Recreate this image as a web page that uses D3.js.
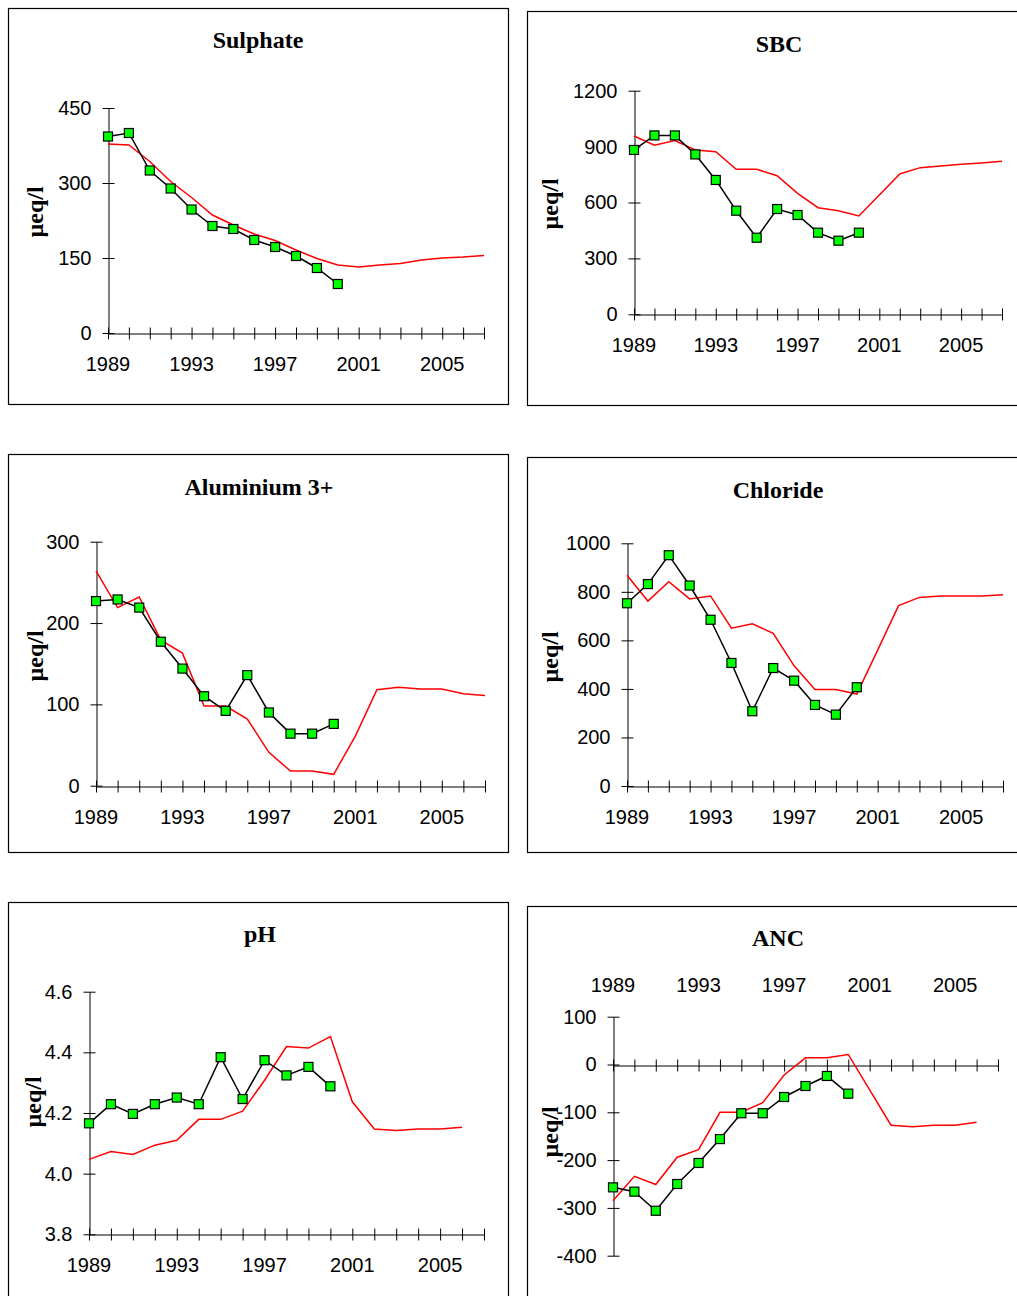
<!DOCTYPE html>
<html>
<head>
<meta charset="utf-8">
<script src="https://cdn.jsdelivr.net/npm/d3@7"></script>
<style>
  body { margin: 0; background: #fff; }
  svg { display: block; }
</style>
</head>
<body>
<script>
// categories
var years = [1989, 1990, 1991, 1992, 1993, 1994, 1995, 1996, 1997, 1998,
             1999, 2000, 2001, 2002, 2003, 2004, 2005, 2006, 2007];
var yearLabels = [1989, 1993, 1997, 2001, 2005];

// observed (green squares) 1989-2000, model (red line) 1989-2007/2006
var sulphateObs   = [393, 400, 325, 289, 247, 214, 208, 186, 172, 154, 130, 98];
var sulphateModel = [378, 376, 343, 303, 271, 236, 216, 198, 185, 166, 149, 136, 132, 136, 139, 146, 150, 152, 155];

var sbcObs   = [882, 960, 960, 858, 721, 556, 411, 565, 533, 438, 395, 438];
var sbcModel = [957, 907, 932, 882, 873, 778, 778, 744, 649, 572, 556, 528, 640, 753, 787, 796, 805, 812, 821];

var alObs   = [227, 229, 219, 177, 144, 110, 92, 136, 90, 64, 64, 76];
var alModel = [264, 219, 232, 179, 163, 98, 98, 82, 41, 18, 18, 14, 61, 118, 121, 119, 119, 113, 111];

var chlorideObs   = [753, 832, 951, 826, 685, 507, 308, 486, 434, 334, 294, 407];
var chlorideModel = [868, 762, 842, 771, 783, 650, 668, 629, 495, 398, 398, 379, 560, 743, 777, 783, 783, 783, 788];

var phObs   = [4.166, 4.229, 4.197, 4.229, 4.251, 4.229, 4.384, 4.246, 4.374, 4.324, 4.352, 4.288];
var phModel = [4.047, 4.073, 4.063, 4.094, 4.110, 4.179, 4.179, 4.206, 4.308, 4.419, 4.414, 4.452, 4.237, 4.147, 4.142, 4.147, 4.147, 4.153];

var ancObs   = [-257, -266, -306, -250, -206, -156, -102, -102, -68, -45, -24, -61];
var ancModel = [-285, -234, -251, -194, -178, -100, -100, -80, -22, 14, 14, 21, -53, -127, -130, -127, -127, -121];

// y tick values
var sulphateTicks = [0, 150, 300, 450];
var sbcTicks = [0, 300, 600, 900, 1200];
var alTicks = [0, 100, 200, 300];
var chlorideTicks = [0, 200, 400, 600, 800, 1000];
var phTicks = [3.8, 4.0, 4.2, 4.4, 4.6];
var ancTicks = [-400, -300, -200, -100, 0, 100];

var W = 1017, H = 1296;
var svg = d3.select("body").append("svg").attr("width", W).attr("height", H);

var intFmt = function(d) { return String(d); };        // plain hyphen for negatives
var oneDec = function(d) { return d.toFixed(1); };

// layout of the six boxes (pixel positions)
var panels = [
  {title: "Sulphate", obs: sulphateObs, model: sulphateModel, ticks: sulphateTicks, fmt: intFmt,
   box: [8.5, 8.5, 500, 396], ax: 108, xEnd: 484, yTop: 108, yBot: 333, tx: 258, ty: 48, lx: 35, ly: 212},
  {title: "SBC", obs: sbcObs, model: sbcModel, ticks: sbcTicks, fmt: intFmt,
   box: [527.5, 11.5, 520, 394], ax: 634, xEnd: 1002, yTop: 90.7, yBot: 314.3, tx: 779, ty: 52, lx: 550, ly: 204},
  {title: "Aluminium 3+", obs: alObs, model: alModel, ticks: alTicks, fmt: intFmt,
   box: [8.5, 454.5, 500, 398], ax: 96, xEnd: 485, yTop: 541.7, yBot: 785.7, tx: 259, ty: 495, lx: 35, ly: 656},
  {title: "Chloride", obs: chlorideObs, model: chlorideModel, ticks: chlorideTicks, fmt: intFmt,
   box: [527.5, 457.5, 520, 395], ax: 627, xEnd: 1003, yTop: 543.3, yBot: 786, tx: 778, ty: 498, lx: 550, ly: 657},
  {title: "pH", obs: phObs, model: phModel, ticks: phTicks, fmt: oneDec,
   box: [8.5, 902.5, 500, 420], ax: 89, xEnd: 484, yTop: 991.7, yBot: 1234.3, tx: 260, ty: 942, lx: 33, ly: 1102},
  {title: "ANC", obs: ancObs, model: ancModel, ticks: ancTicks, fmt: intFmt,
   box: [527.5, 906.5, 520, 420], ax: 613, xEnd: 998, yTop: 1016.7, yBot: 1255.7, tx: 778, ty: 946, lx: 550, ly: 1132,
   labelsOnTop: true}
];

panels.forEach(function(p) {
  var g = svg.append("g");

  g.append("rect")
    .attr("x", p.box[0]).attr("y", p.box[1])
    .attr("width", p.box[2]).attr("height", p.box[3])
    .attr("fill", "none").attr("stroke", "#000").attr("stroke-width", 1.2);

  var x = d3.scaleLinear().domain([1989, 2007]).range([p.ax, p.xEnd]);
  var y = d3.scaleLinear().domain(d3.extent(p.ticks)).range([p.yBot, p.yTop]);

  // x axis sits at y=0 for ANC, at the bottom otherwise
  var xAxisY = p.labelsOnTop ? Math.round(y(0)) + 0.5 : Math.round(p.yBot) + 0.5;

  // x axis with crossing ticks every year
  var xa = g.append("g")
    .attr("transform", "translate(0," + xAxisY + ")")
    .call(d3.axisBottom(x).tickValues(years).tickFormat("").tickSizeOuter(0).tickSizeInner(0));
  xa.selectAll(".tick line").attr("y1", -6).attr("y2", 6).attr("stroke", "#000");
  xa.select(".domain").attr("stroke", "#000");

  // year labels
  g.selectAll("text.xl")
    .data(yearLabels)
    .enter().append("text")
    .attr("class", "xl")
    .attr("x", function(d) { return x(d); })
    .attr("y", p.labelsOnTop ? p.yTop - 25 : xAxisY + 37)
    .attr("text-anchor", "middle")
    .attr("font-family", "'Liberation Sans', Arial, sans-serif")
    .attr("font-size", "20px")
    .attr("fill", "#000")
    .text(function(d) { return d; });

  // y axis with crossing ticks
  var ya = g.append("g")
    .attr("transform", "translate(" + (Math.round(p.ax) + 0.5) + ",0)")
    .call(d3.axisLeft(y).tickValues(p.ticks).tickFormat(p.fmt).tickSizeOuter(0).tickSizeInner(0).tickPadding(17));
  ya.selectAll(".tick line").attr("x1", -6).attr("x2", 6).attr("stroke", "#000");
  ya.select(".domain").attr("stroke", "#000");
  ya.selectAll(".tick text")
    .attr("font-family", "'Liberation Sans', Arial, sans-serif")
    .attr("font-size", "20px")
    .attr("fill", "#000");

  // title
  g.append("text")
    .attr("x", p.tx).attr("y", p.ty)
    .attr("text-anchor", "middle")
    .attr("font-family", "'Liberation Serif', 'Times New Roman', serif")
    .attr("font-weight", "bold")
    .attr("font-size", "24px")
    .text(p.title);

  // y label
  g.append("text")
    .attr("transform", "translate(" + p.lx + "," + p.ly + ") rotate(-90)")
    .attr("text-anchor", "middle")
    .attr("dy", "0.35em")
    .attr("font-family", "'Liberation Serif', 'Times New Roman', serif")
    .attr("font-weight", "bold")
    .attr("font-size", "24px")
    .text("µeq/l");

  var line = d3.line()
    .x(function(d, i) { return x(years[i]); })
    .y(function(d) { return y(d); });

  // model line (red)
  g.append("path")
    .datum(p.model)
    .attr("d", line)
    .attr("fill", "none")
    .attr("stroke", "#ff0000")
    .attr("stroke-width", 1.5);

  // observed line + markers
  g.append("path")
    .datum(p.obs)
    .attr("d", line)
    .attr("fill", "none")
    .attr("stroke", "#000")
    .attr("stroke-width", 1.5);

  g.selectAll("rect.pt")
    .data(p.obs)
    .enter().append("rect")
    .attr("class", "pt")
    .attr("x", function(d, i) { return x(years[i]) - 4.5; })
    .attr("y", function(d) { return y(d) - 4.5; })
    .attr("width", 9).attr("height", 9)
    .attr("fill", "#00ff00")
    .attr("stroke", "#000")
    .attr("stroke-width", 1.2);
});
</script>
</body>
</html>
